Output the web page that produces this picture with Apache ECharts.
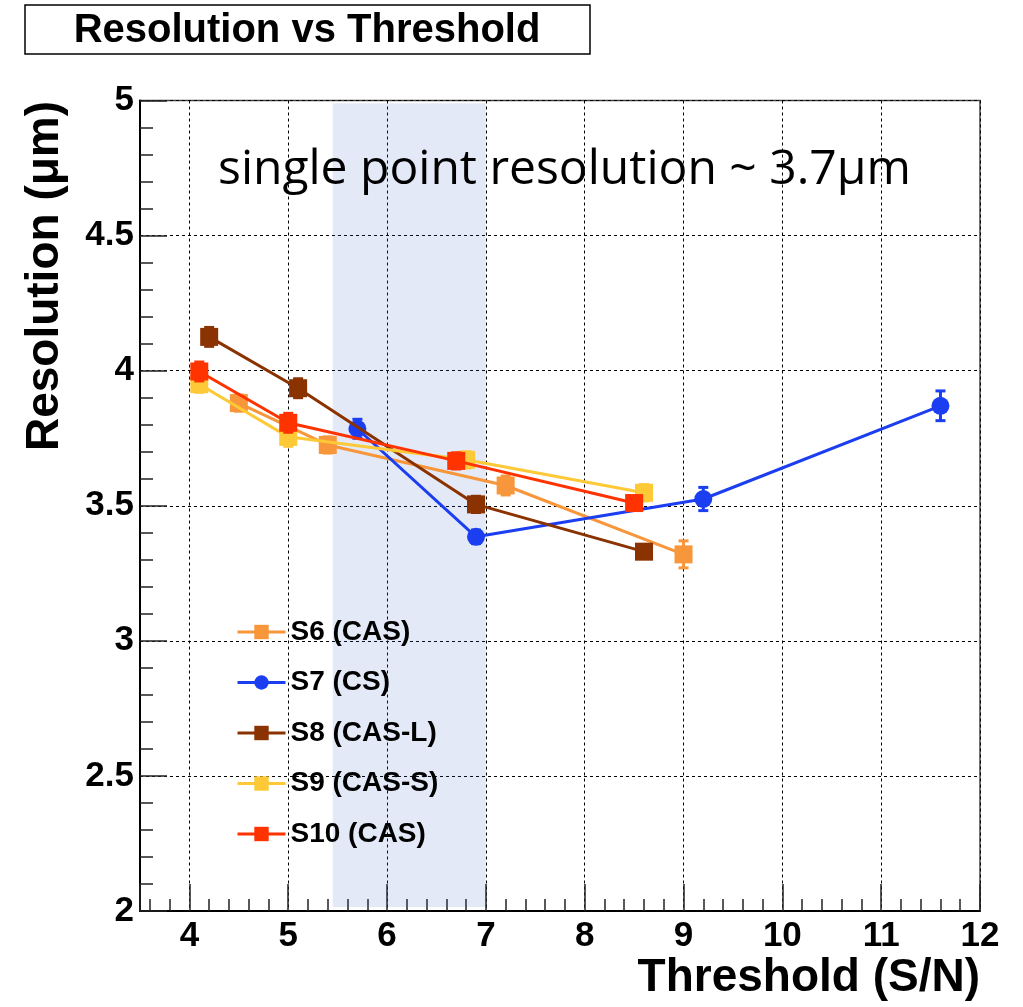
<!DOCTYPE html>
<html><head><meta charset="utf-8">
<script src="https://cdn.jsdelivr.net/npm/echarts@6/dist/echarts.min.js"></script>
<style>html,body{margin:0;padding:0;background:#fff}#c{width:1023px;height:1007px}</style>
</head><body><div id="c"></div>
<script>
const seriesNames = ['S6 (CAS)', 'S7 (CS)', 'S8 (CAS-L)', 'S9 (CAS-S)', 'S10 (CAS)'];
const s6X = [4.5, 5.4, 7.2, 9.0];
const s6Y = [3.88, 3.725, 3.575, 3.32];
const s6Err = [0.03, 0.03, 0.035, 0.05];
const s7X = [5.7, 6.9, 9.2, 11.6];
const s7Y = [3.785, 3.385, 3.525, 3.87];
const s7Err = [0.035, 0.025, 0.043, 0.055];
const s8X = [4.2, 5.1, 6.9, 8.6];
const s8Y = [4.125, 3.935, 3.505, 3.33];
const s8Err = [0.035, 0.035, 0.03, 0.025];
const s9X = [4.1, 5.0, 6.8, 8.6];
const s9Y = [3.95, 3.755, 3.67, 3.548];
const s9Err = [0.03, 0.035, 0.03, 0.03];
const s10X = [4.1, 5.0, 6.7, 8.5];
const s10Y = [3.997, 3.807, 3.666, 3.51];
const s10Err = [0.035, 0.035, 0.03, 0.025];
const bandX = [5.45, 7.0];
const bandY = [2.015, 4.99];
const xRange = [3.5, 12];
const yRange = [2, 5];
const titleText = 'Resolution vs Threshold';
const noteText = 'single point resolution ~ 3.7\u03bcm';
const xTitle = 'Threshold (S/N)';
const yTitle = 'Resolution (\u03bcm)';

const colors = ['#f7963a', '#1a3ef0', '#8b3300', '#fdc936', '#ff3300'];
const symbols = ['rect', 'circle', 'rect', 'rect', 'rect'];
const allX = [s6X, s7X, s8X, s9X, s10X];
const allY = [s6Y, s7Y, s8Y, s9Y, s10Y];
const allE = [s6Err, s7Err, s8Err, s9Err, s10Err];

function errRender(params, api) {
  const x = api.value(0), y = api.value(1), e = api.value(2);
  const lo = api.coord([x, y - e]), hi = api.coord([x, y + e]);
  const c = api.visual('color');
  const cap = 5;
  const st = {stroke: c, lineWidth: 3};
  return {type: 'group', children: [
    {type: 'line', shape: {x1: lo[0], y1: lo[1], x2: hi[0], y2: hi[1]}, style: st},
    {type: 'line', shape: {x1: lo[0] - cap, y1: lo[1], x2: lo[0] + cap, y2: lo[1]}, style: st},
    {type: 'line', shape: {x1: hi[0] - cap, y1: hi[1], x2: hi[0] + cap, y2: hi[1]}, style: st}
  ]};
}
function bandRender(params, api) {
  const p0 = api.coord([api.value(0), api.value(3)]);
  const p1 = api.coord([api.value(2), api.value(1)]);
  return {type: 'rect', shape: {x: p0[0], y: p0[1], width: p1[0] - p0[0], height: p1[1] - p0[1]},
    style: {fill: 'rgba(70,110,200,0.15)'}};
}

const series = [{
  type: 'custom', name: 'band', renderItem: bandRender, silent: true, z: 1,
  encode: {x: [0, 2], y: [1, 3]},
  data: [[bandX[0], bandY[0], bandX[1], bandY[1]]]
}];
seriesNames.forEach((n, i) => {
  series.push({
    type: 'custom', name: n + ' err', renderItem: errRender, silent: true, z: 2 + i * 2,
    itemStyle: {color: colors[i]},
    encode: {x: 0, y: 1},
    data: allX[i].map((x, j) => [x, allY[i][j], allE[i][j]])
  });
  series.push({
    type: 'line', name: n, symbol: symbols[i], symbolSize: 18, z: 3 + i * 2,
    color: colors[i],
    lineStyle: {width: 3, color: colors[i]},
    itemStyle: {color: colors[i]},
    data: allX[i].map((x, j) => [x, allY[i][j]])
  });
});

const chart = echarts.init(document.getElementById('c'), null, {renderer: 'canvas'});
chart.setOption({
  animation: false,
  backgroundColor: '#fff',
  grid: {left: 140, right: 43, top: 100.5, bottom: 96, show: true, borderColor: '#444', borderWidth: 1.5},
  xAxis: {
    type: 'value', min: xRange[0], max: xRange[1], splitNumber: 8,
    axisLine: {lineStyle: {color: '#000', width: 2}},
    axisTick: {inside: true, length: 27, lineStyle: {color: '#222', width: 1.5}},
    minorTick: {show: true, splitNumber: 5, length: 12, lineStyle: {color: '#222', width: 1.5}},
    splitLine: {show: true, lineStyle: {color: '#000', width: 1, type: [3, 3]}},
    axisLabel: {margin: 8, color: '#000', fontSize: 35, fontWeight: 'bold', fontFamily: 'Liberation Sans, Arial, sans-serif',
      formatter: v => (Number.isInteger(v) ? String(v) : '')}
  },
  yAxis: {
    type: 'value', min: yRange[0], max: yRange[1], interval: 0.5,
    axisLine: {lineStyle: {color: '#000', width: 2}},
    axisTick: {inside: true, length: 27, lineStyle: {color: '#222', width: 1.5}},
    minorTick: {show: true, splitNumber: 5, length: 13, lineStyle: {color: '#222', width: 1.5}},
    splitLine: {show: true, lineStyle: {color: '#000', width: 1, type: [3, 3]}},
    axisLabel: {margin: 6, color: '#000', fontSize: 35, fontWeight: 'bold', fontFamily: 'Liberation Sans, Arial, sans-serif'}
  },
  legend: {
    data: seriesNames, orient: 'vertical', left: 236, top: 617, padding: 0,
    itemWidth: 48, itemHeight: 18, itemGap: 20.5,
    lineStyle: {width: 3},
    textStyle: {fontSize: 28, fontWeight: 'bold', color: '#000', lineHeight: 30, fontFamily: 'Liberation Sans, Arial, sans-serif'}
  },
  graphic: [
    {type: 'rect', shape: {x: 25, y: 5, width: 565, height: 49}, style: {fill: '#fff', stroke: '#000', lineWidth: 1.5}, z: 100},
    {type: 'text', x: 307, y: 31, z: 101, style: {text: titleText, textAlign: 'center', textVerticalAlign: 'middle',
      font: 'bold 40px "Liberation Sans", Arial, sans-serif', fill: '#000'}},
    {type: 'text', x: 218, y: 170, z: 101, style: {text: noteText, textAlign: 'left', textVerticalAlign: 'middle',
      font: '48px "Open Sans", sans-serif', fill: '#000'}},
    {type: 'text', x: 980, y: 978, z: 101, style: {text: xTitle, textAlign: 'right', textVerticalAlign: 'middle',
      font: 'bold 46px "Liberation Sans", Arial, sans-serif', fill: '#000'}},
    {type: 'text', x: 45, y: 276, rotation: Math.PI / 2, z: 101, style: {text: yTitle, textAlign: 'center', textVerticalAlign: 'middle',
      font: 'bold 46px "Liberation Sans", Arial, sans-serif', fill: '#000'}}
  ],
  series: series
});
</script></body></html>
